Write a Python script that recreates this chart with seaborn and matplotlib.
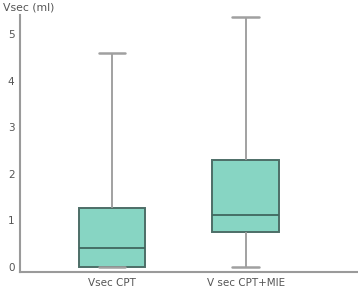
import matplotlib
matplotlib.use("Agg")
import matplotlib.pyplot as plt
import seaborn as sns
import pandas as pd

# five-number summaries: min, Q1, median, Q3, max
groups = ["Vsec CPT", "V sec CPT+MIE"]
vsec_cpt = [0.0, 0.0, 0.40, 1.26, 4.60]
vsec_cpt_mie = [0.0, 0.76, 1.11, 2.29, 5.36]
y_ticks = [0, 1, 2, 3, 4, 5]

df = pd.DataFrame({
    "group": [groups[0]] * len(vsec_cpt) + [groups[1]] * len(vsec_cpt_mie),
    "value": vsec_cpt + vsec_cpt_mie,
})

sns.set_style("white")
plt.rcParams["font.family"] = ["DejaVu Sans"]

fig = plt.figure(figsize=(3.58, 2.87), dpi=100)
ax = fig.add_axes([0.056, 0.052, 0.941, 0.896])

sns.boxplot(
    data=df, x="group", y="value", ax=ax,
    whis=(0, 100), width=0.5, capwidths=0.2,
    color="#87d5c3", saturation=1,
    boxprops=dict(edgecolor="#4d6e67", linewidth=1.4),
    medianprops=dict(color="#3f675f", linewidth=1.3),
    whiskerprops=dict(color="#9a9a9a", linewidth=1.3),
    capprops=dict(color="#a0a0a0", linewidth=1.8),
)

ax.set_xlim(-0.687, 1.83)
ax.set_ylim(-0.107, 5.41)
ax.set_yticks(y_ticks)
ax.set_xlabel("")
ax.set_ylabel("")

for side in ["top", "right"]:
    ax.spines[side].set_visible(False)
for side in ["left", "bottom"]:
    ax.spines[side].set_color("#9a9a9a")
    ax.spines[side].set_linewidth(1.5)

ax.tick_params(axis="both", direction="out", length=2.5, width=1,
               color="#777777", labelsize=7.5, labelcolor="#555555", pad=1.5)

fig.text(0.008, 0.975, "Vsec (ml)", fontsize=7.8, color="#555555",
         ha="left", va="center")

fig.savefig("out.png", dpi=100)
